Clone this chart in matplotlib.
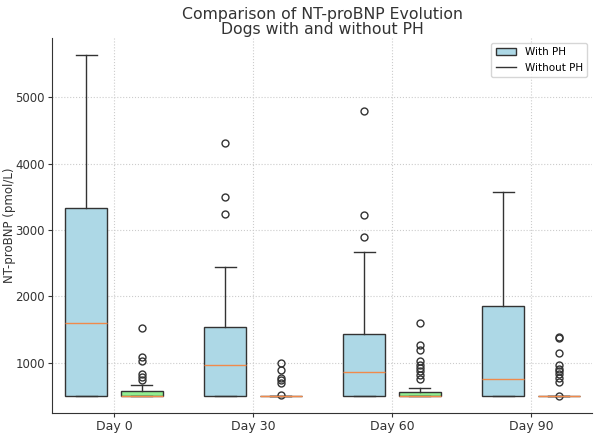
import matplotlib
matplotlib.use("Agg")
import matplotlib.pyplot as plt
from matplotlib.patches import Patch
from matplotlib.lines import Line2D

days = ["Day 0", "Day 30", "Day 60", "Day 90"]

# With PH box statistics (pmol/L)
ph_q1 = [500, 500, 500, 500]
ph_med = [1600, 965, 860, 760]
ph_q3 = [3340, 1535, 1440, 1850]
ph_lo = [500, 500, 500, 500]
ph_hi = [5635, 2440, 2670, 3570]
ph_fliers = [[], [4315, 3505, 3235], [4790, 3230, 2900], []]

# Without PH box statistics (pmol/L)
noph_q1 = [500, 500, 500, 500]
noph_med = [500, 500, 500, 500]
noph_q3 = [580, 500, 560, 500]
noph_lo = [500, 500, 500, 500]
noph_hi = [670, 500, 620, 500]
noph_fliers = [
    [1525, 1090, 1030, 835, 785, 745],
    [1005, 885, 770, 735, 700, 520],
    [1600, 1275, 1200, 1035, 975, 925, 875, 810, 750],
    [1390, 1370, 1150, 975, 910, 870, 830, 775, 710, 505],
]


def make_stats(q1, med, q3, lo, hi, fl):
    return [dict(q1=a, med=b, q3=c, whislo=d, whishi=e, fliers=f)
            for a, b, c, d, e, f in zip(q1, med, q3, lo, hi, fl)]


plt.rcParams['font.family'] = ['DejaVu Sans']
fig = plt.figure(figsize=(5.97, 4.33), dpi=100)
ax = fig.add_axes([0.087, 0.046, 0.905, 0.866])

edge = "#333333"
common = dict(patch_artist=True, widths=0.3,
              boxprops=dict(edgecolor=edge, linewidth=1.0),
              whiskerprops=dict(color=edge, linewidth=1.0),
              capprops=dict(color=edge, linewidth=1.0),
              medianprops=dict(color="#f08a4b", linewidth=1.0),
              flierprops=dict(marker="o", markerfacecolor="none",
                              markeredgecolor=edge, markersize=5, markeredgewidth=1.0))

x = range(1, len(days) + 1)
b1 = ax.bxp(make_stats(ph_q1, ph_med, ph_q3, ph_lo, ph_hi, ph_fliers),
            positions=[i - 0.2 for i in x], **common)
b2 = ax.bxp(make_stats(noph_q1, noph_med, noph_q3, noph_lo, noph_hi, noph_fliers),
            positions=[i + 0.2 for i in x], **common)
for p in b1["boxes"]:
    p.set_facecolor("#add8e6")
for p in b2["boxes"]:
    p.set_facecolor("#90ee90")

ax.set_xticks(list(x))
ax.set_xticklabels(days)
ax.set_xlim(0.554, 4.44)
ax.set_ylabel("NT-proBNP (pmol/L)", fontsize=8.5, color="#333333")
ax.yaxis.set_label_coords(-0.066, 0.5)
ax.set_title("Comparison of NT-proBNP Evolution\nDogs with and without PH",
             fontsize=11.3, color="#333333", pad=3, linespacing=1.0)
ax.grid(True, linestyle=":", color="#cccccc", linewidth=0.8)
ax.set_axisbelow(True)
for s in ["top", "right"]:
    ax.spines[s].set_visible(False)
for s in ["left", "bottom"]:
    ax.spines[s].set_color("#333333")
ax.tick_params(labelsize=9, colors="#333333", length=3, pad=2)
ax.tick_params(axis="y", labelsize=8.5)

handles = [Patch(facecolor="#add8e6", edgecolor=edge, label="With PH"),
           Line2D([0], [0], color=edge, linewidth=1.0, label="Without PH")]
ax.legend(handles=handles, loc="upper right", fontsize=7.5, frameon=True)

fig.savefig("out.png", dpi=100)
